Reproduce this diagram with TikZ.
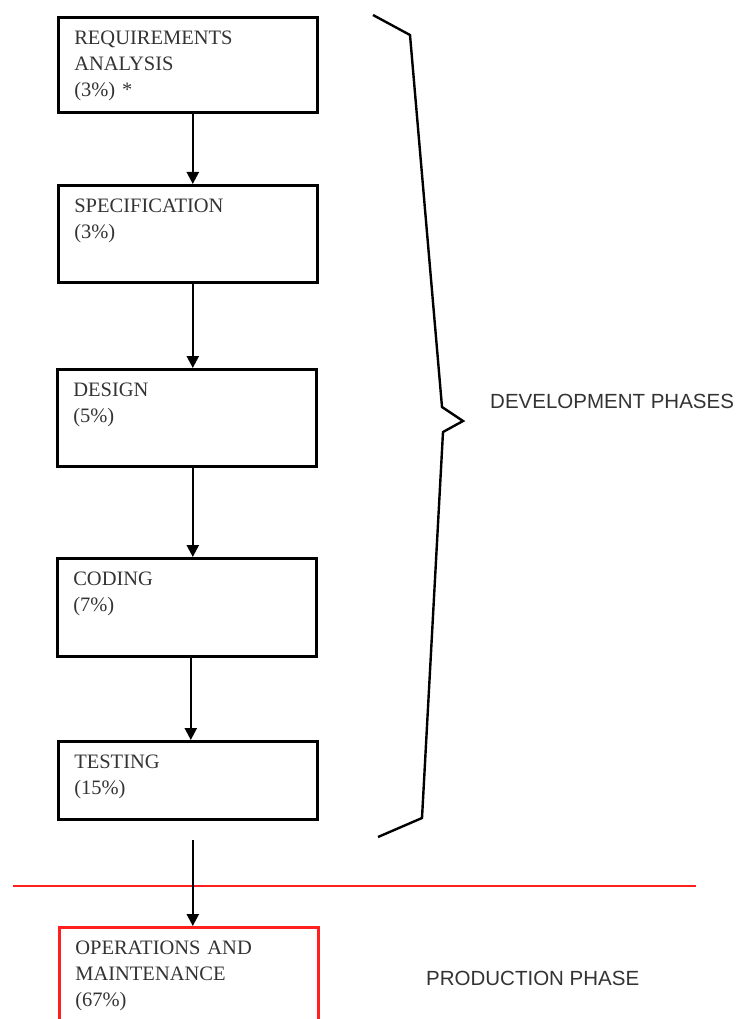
\documentclass[tikz,border=0pt]{standalone}
\usepackage{fontspec}
\setmainfont{Liberation Serif}
\newfontfamily\labelfont{Liberation Sans}
\usetikzlibrary{arrows.meta}

\definecolor{boxtext}{HTML}{333333}
\definecolor{prodred}{HTML}{FF1F1F}

\tikzset{
    phasebox/.style={draw, line width=2.6pt, rectangle, anchor=north west,
        text width=227pt, align=left, inner xsep=16pt, inner ysep=14pt,
        text height=13.6pt, text depth=#1, text=boxtext,
        font=\fontsize{20.5}{26}\selectfont},
    flow/.style={line width=2.4pt, -{Triangle[length=12pt, width=12pt]}},
    phaselabel/.style={anchor=base west, inner sep=0pt, text=boxtext,
        font=\labelfont\fontsize{20.5}{24}\selectfont}
}

\begin{document}
\begin{tikzpicture}[x=1pt, y=-1pt]
    \useasboundingbox (0, 0) rectangle (737, 1019);
    \clip (0, 0) rectangle (737, 1019);

    % development phases
    \node[phasebox=53.4pt] (req) at (57, 16) {REQUIREMENTS\\ANALYSIS\\(3\%) *};
    \node[phasebox=55.4pt] (spec) at (57, 184) {SPECIFICATION\\(3\%)};
    \node[phasebox=55.4pt] (design) at (56, 368) {DESIGN\\(5\%)};
    \node[phasebox=56.4pt] (coding) at (56, 557) {CODING\\(7\%)};
    \node[phasebox=36.4pt] (testing) at (57, 740) {TESTING\\(15\%)};

    \draw[flow] ([xshift=5pt]req.south) -- ([xshift=5pt]req.south |- spec.north);
    \draw[flow] ([xshift=5pt]spec.south) -- ([xshift=5pt]spec.south |- design.north);
    \draw[flow] ([xshift=6pt]design.south) -- ([xshift=6pt]design.south |- coding.north);
    \draw[flow] ([xshift=4pt]coding.south) -- ([xshift=4pt]coding.south |- testing.north);

    % brace
    \draw[line width=2.4pt, line join=miter] (373, 15) -- (410, 35) -- (442, 407)
        -- (463, 421) -- (443, 432) -- (422, 818) -- (378, 837);
    \node[phaselabel] (dev) at (490, 408) {DEVELOPMENT PHASES};

    % production phase
    \draw[prodred, line width=2.6pt] (13, 886) -- (696, 886);
    \node[phasebox=58.4pt, draw=prodred] (ops) at (58, 926)
        {OPERATIONS AND\\MAINTENANCE\\(67\%)};
    \draw[flow, shorten <=19pt] ([xshift=5pt]testing.south) -- ([xshift=5pt]testing.south |- ops.north);
    \node[phaselabel] (prod) at (426, 985) {PRODUCTION PHASE};
\end{tikzpicture}
\end{document}
